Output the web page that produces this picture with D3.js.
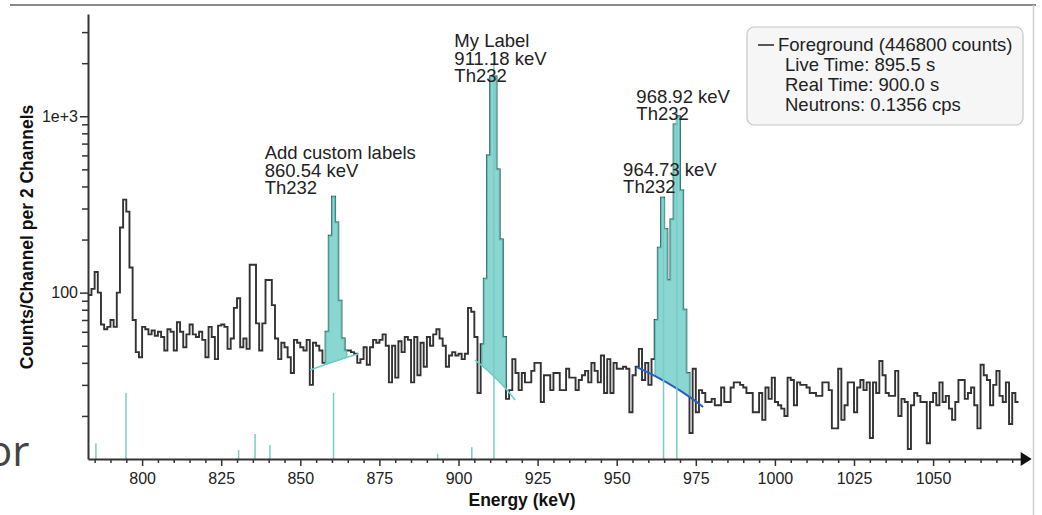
<!DOCTYPE html>
<html>
<head>
<meta charset="utf-8">
<script src="https://d3js.org/d3.v7.min.js"></script>
<style>
  body { margin: 0; background: #fff; }
  svg { display: block; font-family: "Liberation Sans", Arial, sans-serif; }
</style>
</head>
<body>
<svg id="chart" width="1042" height="515"></svg>
<script>
// spectrum, 2 channels per bin (~1 keV), first bin starts at 783 keV
const binStart = 783;
const binWidth = 1;
const counts = [
  97, 105, 131, 100, 66, 62, 64, 70, 64, 100, 234, 337, 288, 139, 70, 46, 43,            // 783-799
  64, 62, 58, 61, 57, 60, 56, 47, 62, 60, 47, 68, 60, 49, 58, 66, 58, 56, 60, 54,         // 800-819
  43, 64, 56, 42, 65, 66, 64, 48, 55, 82, 93, 49, 55, 48, 144, 144, 67, 47, 67, 118,      // 820-839
  118, 85, 55, 42, 52, 49, 43, 35, 54, 52, 49, 47, 54, 30, 52, 50, 47, 40, 60, 210,       // 840-859
  350, 250, 90, 55, 47, 47, 46, 45, 40, 42, 49, 39, 49, 54, 52, 54, 58, 50, 31, 50,       // 860-879
  33, 53, 46, 56, 54, 31, 56, 34, 52, 38, 56, 50, 58, 62, 55, 50, 38, 44, 46, 44,         // 880-899
  45, 42, 45, 82, 78, 56, 27, 51, 120, 600, 1680, 1680, 500, 200, 56, 25, 28, 42, 35, 28, // 900-919
  35, 31, 31, 36, 40, 40, 24, 34, 34, 28, 35, 35, 28, 28, 37, 33, 33, 28, 32, 34,         // 920-939
  36, 31, 40, 36, 31, 44, 27, 42, 27, 40, 37, 37, 38, 37, 21, 34, 38, 48, 32, 40,         // 940-959
  30, 42, 70, 180, 345, 230, 118, 260, 900, 1000, 380, 80, 35, 16, 37, 21, 28, 27, 24, 24, // 960-979
  25, 23, 23, 29, 24, 24, 29, 31, 31, 30, 29, 27, 27, 21, 21, 27, 19, 29, 25, 33,         // 980-999
  24, 23, 22, 20, 33, 32, 23, 31, 30, 30, 29, 27, 27, 26, 26, 31, 31, 28, 17, 17,         // 1000-1019
  37, 19, 23, 31, 31, 21, 29, 32, 28, 31, 15, 31, 27, 41, 34, 27, 26, 26, 36, 20,         // 1020-1039
  25, 24, 13, 23, 27, 26, 24, 24, 14, 24, 27, 23, 31, 24, 26, 22, 19, 24, 32, 32,         // 1040-1059
  25, 27, 29, 23, 17, 39, 34, 32, 23, 30, 36, 26, 24, 31, 18, 27, 24                      // 1060-1076
];

const xTicks = d3.range(785, 1076, 5);
const xLabelTicks = [800, 825, 850, 875, 900, 925, 950, 975, 1000, 1025, 1050];
const yTicks = [20, 30, 40, 50, 60, 70, 80, 90, 100, 200, 300, 400, 500, 600, 700, 800, 900, 1000, 2000, 3000];
const yLabelTicks = [100, 1000];
const yLabelText = ["100", "1e+3"];

// fitted peaks and their labels
const peakEnergies = [860.54, 911.18, 964.73, 968.92];
const peakTops = [362, 1564, 367, 952];
const peakLabels = [
  ["Add custom labels", "860.54 keV", "Th232"],
  ["My Label", "911.18 keV", "Th232"],
  ["964.73 keV", "Th232"],
  ["968.92 keV", "Th232"]
];

// regions of interest: continuum ends and filled peak range
const roiStart = [853.1, 905.2, 956.3];
const roiEnd = [868.4, 917.9, 977.3];
const roiContStart = [36.4, 41.5, 37.9];
const roiContEnd = [45, 24.6, 22.5];
const roiFillStart = [857.8, 907.4, 962.1];
const roiFillEnd = [864.7, 915.3, 973.2];

// Th232 reference gamma lines
const refEnergies = [785.4, 794.9, 830.5, 835.7, 840.4, 860.5, 893.4, 904.2, 911.2, 964.8, 969.0];
const refHeights = [14.0, 27.0, 12.8, 15.8, 13.7, 27.0, 12.2, 13.3, 2283, 340, 1057];

const legendLines = ["Foreground (446800 counts)", "Live Time: 895.5 s", "Real Time: 900.0 s", "Neutrons: 0.1356 cps"];

const teal = "#7dd3cd";
const tealDark = "#4fb3ad";
const roiLineColors = ["#6ccfc7", "#6ccfc7", "#2b5fc4"];

const svg = d3.select("#chart");

const x = d3.scaleLinear().domain([782.9, 1078]).range([88, 1021.7]);
const y = d3.scaleLog().domain([11.4, 3800]).range([459, 14]);

// page frame bits around the screenshot
svg.append("line").attr("x1", 10).attr("x2", 1036).attr("y1", 5).attr("y2", 5)
  .attr("stroke", "#8a8a8a").attr("stroke-width", 2);
svg.append("line").attr("x1", 1033.5).attr("x2", 1033.5).attr("y1", 5).attr("y2", 515)
  .attr("stroke", "#d0d0d0").attr("stroke-width", 1.5);
svg.append("text").attr("x", -13).attr("y", 466)
  .style("font-family", "'Open Sans', sans-serif").style("font-size", "42px")
  .attr("fill", "#444").text("or");

// data step line
const stepPts = counts.map((c, i) => ({e: binStart + i * binWidth, v: c}));
stepPts.push({e: binStart + counts.length * binWidth, v: counts[counts.length - 1]});

svg.append("path")
  .datum(stepPts)
  .attr("fill", "none")
  .attr("stroke", "#333")
  .attr("stroke-width", 1.9)
  .attr("d", d3.line().curve(d3.curveStepAfter).x(d => x(d.e)).y(d => y(d.v)));

function contAt(k, e) {
  const t = (e - roiStart[k]) / (roiEnd[k] - roiStart[k]);
  return roiContStart[k] + t * (roiContEnd[k] - roiContStart[k]);
}

// peak areas
roiStart.forEach((s, k) => {
  const pts = [];
  counts.forEach((c, i) => {
    const a = binStart + i * binWidth, b = a + binWidth;
    const lo = Math.max(a, roiFillStart[k]), hi = Math.min(b, roiFillEnd[k]);
    if (hi > lo) { pts.push({e: lo, v: c}); pts.push({e: hi, v: c}); }
  });
  svg.append("path")
    .datum(pts)
    .attr("fill", teal)
    .attr("fill-opacity", 0.9)
    .attr("stroke", tealDark)
    .attr("stroke-width", 1)
    .attr("d", d3.area()
      .x(d => x(d.e))
      .y0(d => y(contAt(k, d.e)))
      .y1(d => y(Math.max(d.v, contAt(k, d.e)))));

  const cont = d3.range(0, 1.0001, 0.05).map(t => s + t * (roiEnd[k] - s));
  svg.append("path")
    .datum(cont)
    .attr("fill", "none")
    .attr("stroke", roiLineColors[k])
    .attr("stroke-width", k === 2 ? 2 : 1.5)
    .attr("d", d3.line().x(e => x(e)).y(e => y(contAt(k, e))));
});

// reference lines
svg.append("g")
  .selectAll("line")
  .data(refEnergies)
  .join("line")
  .attr("x1", d => x(d)).attr("x2", d => x(d))
  .attr("y1", y(11.4))
  .attr("y2", (d, i) => y(refHeights[i]))
  .attr("stroke", "#79ccc6")
  .attr("stroke-width", 1.5);

// axes
const xAxis = svg.append("g")
  .attr("transform", "translate(0," + y(11.4) + ")")
  .call(d3.axisBottom(x).tickValues(xTicks).tickSize(4).tickSizeOuter(0)
    .tickFormat(d => xLabelTicks.includes(d) ? d : ""));
xAxis.selectAll(".tick line")
  .attr("y2", d => xLabelTicks.includes(d) ? 7 : 4);
xAxis.selectAll(".tick text").attr("y", 14);

const yAxis = svg.append("g")
  .attr("transform", "translate(" + x(782.9) + ",0)")
  .call(d3.axisLeft(y).tickValues(yTicks).tickSize(6).tickSizeOuter(0)
    .tickFormat(d => {
      const j = yLabelTicks.indexOf(d);
      return j >= 0 ? yLabelText[j] : "";
    }));
yAxis.selectAll(".tick line")
  .attr("x2", d => yLabelTicks.includes(d) ? -8 : -6);
yAxis.selectAll(".tick text").attr("x", -10);

[xAxis, yAxis].forEach(g => {
  g.select(".domain").attr("stroke", "#333").attr("stroke-width", 2);
  g.selectAll(".tick line").attr("stroke", "#333").attr("stroke-width", 1.5);
  g.selectAll(".tick text").attr("fill", "#222")
    .style("font-family", "'Liberation Sans', Arial, sans-serif").style("font-size", "16px");
});

// arrow at the end of the energy axis
const xEnd = x.range()[1];
svg.append("path")
  .attr("d", "M" + (xEnd - 1) + "," + (y(11.4) - 7) + "L" + (xEnd + 10) + "," + y(11.4) +
    "L" + (xEnd - 1) + "," + (y(11.4) + 7) + "Z")
  .attr("fill", "#111");

// axis titles
svg.append("text")
  .attr("x", 522).attr("y", 506)
  .attr("text-anchor", "middle")
  .style("font-weight", "bold").style("font-size", "17.5px")
  .attr("fill", "#111")
  .text("Energy (keV)");

svg.append("text")
  .attr("transform", "rotate(-90)")
  .attr("x", -237).attr("y", 33)
  .attr("text-anchor", "middle")
  .style("font-weight", "bold").style("font-size", "17.5px")
  .attr("fill", "#111")
  .text("Counts/Channel per 2 Channels");

// peak labels
peakEnergies.forEach((e, k) => {
  const lines = peakLabels[k];
  const t = svg.append("text")
    .style("font-size", "18.5px")
    .attr("fill", "#222");
  const spans = lines.map((s, j) => t.append("tspan").text(s));
  const maxW = d3.max(spans, sp => sp.node().getComputedTextLength());
  const left = x(e) + 6.6 - maxW / 2;
  const base = y(peakTops[k]);
  spans.forEach((sp, j) => {
    sp.attr("x", left).attr("y", base - (lines.length - 1 - j) * 17.5);
  });
});

// legend
const lg = svg.append("g");
lg.append("rect")
  .attr("x", 747).attr("y", 27).attr("width", 276).attr("height", 98)
  .attr("rx", 7)
  .attr("fill", "#f6f6f6").attr("stroke", "#c6c6c6").attr("stroke-width", 1.2);
lg.append("line")
  .attr("x1", 758).attr("x2", 774).attr("y1", 45).attr("y2", 45)
  .attr("stroke", "#222").attr("stroke-width", 1.5);
lg.selectAll("text")
  .data(legendLines)
  .join("text")
  .attr("x", (d, i) => i === 0 ? 778 : 785)
  .attr("y", (d, i) => 51 + i * 20)
  .style("font-size", "18.5px")
  .attr("fill", "#222")
  .text(d => d);
</script>
</body>
</html>
